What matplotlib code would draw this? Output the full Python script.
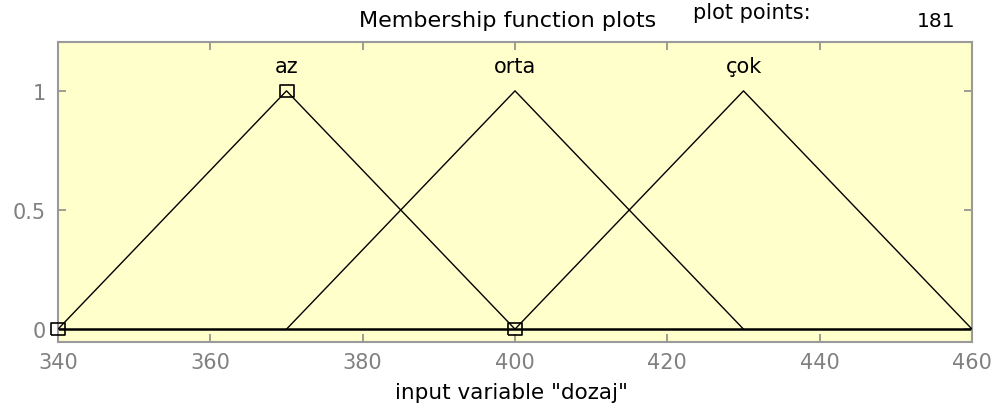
import numpy as np
import matplotlib.pyplot as plt

# üyelik fonksiyonları (üçgen) - giriş değişkeni "dozaj"
mf_names = ['az', 'orta', 'çok']
mf_params = [[340, 370, 400],
             [370, 400, 430],
             [400, 430, 460]]
x_range = [340, 460]
plot_points = 181
selected_mf = 0  # seçili fonksiyon köşelerinde kare işaret

x_ticks = [340, 360, 380, 400, 420, 440, 460]
y_ticks = [0, 0.5, 1]
y_tick_labels = ['0', '0.5', '1']

plt.rcParams['font.family'] = ['DejaVu Sans']

fig = plt.figure(figsize=(9.95, 4.1), dpi=100)
ax = fig.add_axes([0.0583, 0.1634, 0.9186, 0.7317])
ax.set_facecolor('#ffffcc')

ax.plot(x_range, [0, 0], color='black', lw=1.8, zorder=2)
for name, (a, b, c) in zip(mf_names, mf_params):
    ax.plot([a, b, c], [0, 1, 0], color='black', lw=1.0, zorder=3)
    ax.text(b, 1.08, name, ha='center', va='baseline', fontsize=15, color='black')

# seçili fonksiyonun köşe noktaları
box = [(-1.2, -1), (1.2, -1), (1.2, 1), (-1.2, 1), (-1.2, -1)]
a, b, c = mf_params[selected_mf]
ax.plot([a, b, c], [0, 1, 0], ls='none', marker=box, ms=10, mfc='none',
        mec='black', mew=1.2, zorder=4, clip_on=False)

ax.set_xlim(x_range)
ax.set_ylim(-0.054, 1.205)
ax.set_xticks(x_ticks)
ax.set_yticks(y_ticks)
ax.set_yticklabels(y_tick_labels)
ax.tick_params(direction='in', length=6, width=1.2, color='#8c8c8c',
               labelcolor='#808080', labelsize=15, top=True, right=True)
ax.tick_params(axis='x', pad=7)
ax.tick_params(axis='y', pad=9)
for sp in ax.spines.values():
    sp.set_color('#9a9a9a')
    sp.set_linewidth(1.5)

fig.text(0.514, 0.027, 'input variable "dozaj"', ha='center', va='baseline', fontsize=15.5)
fig.text(0.510, 0.934, 'Membership function plots', ha='center', va='baseline', fontsize=16)
fig.text(0.756, 0.954, 'plot points:', ha='center', va='baseline', fontsize=15)
fig.text(0.941, 0.934, str(plot_points), ha='center', va='baseline', fontsize=14.5)

fig.savefig('out.png', dpi=100)
